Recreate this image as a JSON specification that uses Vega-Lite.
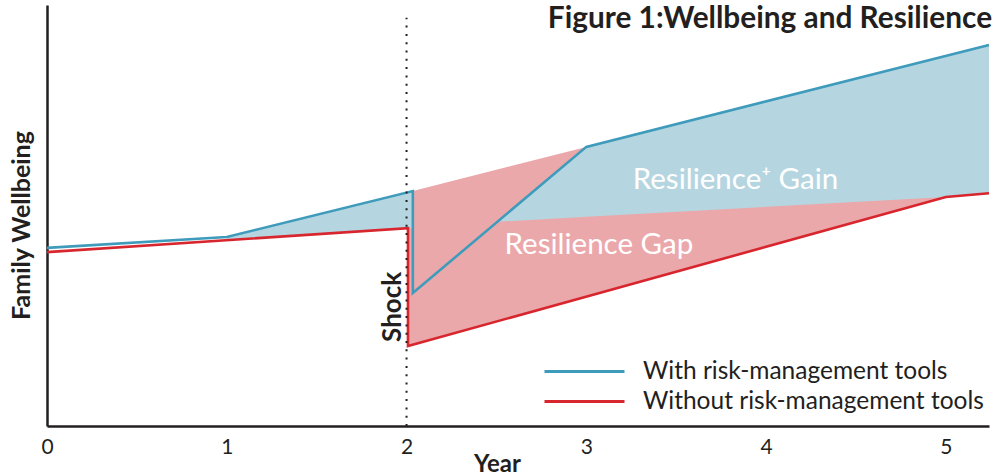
{
  "$schema": "https://vega.github.io/schema/vega-lite/v6.json",
  "width": 942,
  "height": 421,
  "autosize": {"type": "none"},
  "padding": {"left": 47, "top": 5, "right": 17, "bottom": 50},
  "background": "white",
  "config": {
    "view": {"stroke": null},
    "font": "Lato",
    "axis": {"grid": false, "domainColor": "#231f20", "domainWidth": 2.5, "labelColor": "#231f20", "titleColor": "#231f20", "labelFont": "Lato", "titleFont": "Lato"},
    "legend": {"labelFont": "Lato"}
  },
  "datasets": {
    "lines": [
      {"series": "With risk-management tools", "x": 0, "y": 42.3, "ord": 1},
      {"series": "With risk-management tools", "x": 1, "y": 44.9, "ord": 2},
      {"series": "With risk-management tools", "x": 2.035, "y": 55.8, "ord": 3},
      {"series": "With risk-management tools", "x": 2.035, "y": 31.6, "ord": 4},
      {"series": "With risk-management tools", "x": 3, "y": 66.3, "ord": 5},
      {"series": "With risk-management tools", "x": 5.24, "y": 90.5, "ord": 6},
      {"series": "Without risk-management tools", "x": 0, "y": 41.3, "ord": 1},
      {"series": "Without risk-management tools", "x": 2.008, "y": 47.0, "ord": 2},
      {"series": "Without risk-management tools", "x": 2.008, "y": 19.0, "ord": 3},
      {"series": "Without risk-management tools", "x": 5.0, "y": 54.4, "ord": 4},
      {"series": "Without risk-management tools", "x": 5.24, "y": 55.3, "ord": 5}
    ],
    "gap": [
      {"x": 2.008, "top": 55.5, "bottom": 19.0},
      {"x": 3, "top": 66.3, "bottom": 30.7},
      {"x": 5, "top": 87.9, "bottom": 54.4}
    ],
    "pre": [
      {"x": 1, "top": 44.9, "bottom": 44.1},
      {"x": 2.008, "top": 55.5, "bottom": 47.0},
      {"x": 2.035, "top": 55.8, "bottom": 47.0}
    ],
    "gain": [
      {"x": 2.506, "top": 48.5, "bottom": 48.5},
      {"x": 3, "top": 66.3, "bottom": 49.7},
      {"x": 5, "top": 87.9, "bottom": 54.4},
      {"x": 5.24, "top": 90.5, "bottom": 55.3}
    ],
    "shock": [{"x": 2, "y0": 0, "y1": 97}],
    "labels": [
      {"label": "Resilience⁺ Gain", "x": 3.83, "y": 58.4},
      {"label": "Resilience Gap", "x": 3.07, "y": 43.0}
    ],
    "shocklabel": [{"label": "Shock", "x": 1.925, "y": 28.3}],
    "heading": [{"label": "Figure 1:Wellbeing and Resilience", "x": 5.257, "y": 94.5}]
  },
  "layer": [
    {
      "data": {"name": "gap"},
      "mark": {"type": "area", "color": "#eba8ab", "opacity": 1},
      "encoding": {
        "x": {"field": "x", "type": "quantitative", "scale": {"domain": [0, 5.24], "nice": false, "zero": false}, "axis": {"values": [0, 1, 2, 3, 4, 5], "format": "d", "ticks": false, "labelFlush": false, "labelFontSize": 21, "labelPadding": 10, "title": "Year", "titleFontSize": 24, "titleFontWeight": "bold", "titleX": 450, "titleY": 45, "titleBaseline": "alphabetic"}},
        "y": {"field": "top", "type": "quantitative", "scale": {"domain": [0, 100], "nice": false}, "axis": {"ticks": false, "labels": false, "title": "Family Wellbeing", "titleFontSize": 25, "titleFontWeight": "bold", "titleX": -13, "titleY": 220, "titleAlign": "center"}},
        "y2": {"field": "bottom"}
      }
    },
    {
      "data": {"name": "pre"},
      "mark": {"type": "area", "color": "#b5d6e0", "opacity": 1},
      "encoding": {
        "x": {"field": "x", "type": "quantitative"},
        "y": {"field": "top", "type": "quantitative"},
        "y2": {"field": "bottom"}
      }
    },
    {
      "data": {"name": "gain"},
      "mark": {"type": "area", "color": "#b5d6e0", "opacity": 1},
      "encoding": {
        "x": {"field": "x", "type": "quantitative"},
        "y": {"field": "top", "type": "quantitative"},
        "y2": {"field": "bottom"}
      }
    },
    {
      "data": {"name": "lines"},
      "mark": {"type": "line", "strokeWidth": 2.6, "strokeJoin": "miter"},
      "encoding": {
        "x": {"field": "x", "type": "quantitative"},
        "y": {"field": "y", "type": "quantitative"},
        "order": {"field": "ord", "type": "quantitative"},
        "color": {
          "field": "series", "type": "nominal",
          "scale": {"domain": ["With risk-management tools", "Without risk-management tools"], "range": ["#3f9bbb", "#d8262e"]},
          "legend": {"title": null, "orient": "none", "legendX": 521, "legendY": 350, "symbolType": "M-2.667,0H2.667", "symbolSize": 900, "symbolStrokeWidth": 3, "labelFontSize": 24.5, "labelColor": "#231f20", "labelOffset": 42, "rowPadding": 2, "labelLimit": 450}
        }
      }
    },
    {
      "data": {"name": "shock"},
      "mark": {"type": "rule", "color": "#231f20", "strokeWidth": 2, "strokeDash": [2, 6.3]},
      "encoding": {
        "x": {"field": "x", "type": "quantitative"},
        "y": {"field": "y0", "type": "quantitative"},
        "y2": {"field": "y1"}
      }
    },
    {
      "data": {"name": "labels"},
      "mark": {"type": "text", "color": "white", "fontSize": 29.5, "font": "Lato", "align": "center", "baseline": "middle"},
      "encoding": {
        "x": {"field": "x", "type": "quantitative"},
        "y": {"field": "y", "type": "quantitative"},
        "text": {"field": "label"}
      }
    },
    {
      "data": {"name": "shocklabel"},
      "mark": {"type": "text", "color": "#231f20", "fontSize": 26, "font": "Lato", "fontWeight": "bold", "angle": 270, "align": "center", "baseline": "middle"},
      "encoding": {
        "x": {"field": "x", "type": "quantitative"},
        "y": {"field": "y", "type": "quantitative"},
        "text": {"field": "label"}
      }
    },
    {
      "data": {"name": "heading"},
      "mark": {"type": "text", "color": "#231f20", "fontSize": 29.8, "font": "Lato", "fontWeight": "bold", "align": "right", "baseline": "alphabetic"},
      "encoding": {
        "x": {"field": "x", "type": "quantitative"},
        "y": {"field": "y", "type": "quantitative"},
        "text": {"field": "label"}
      }
    }
  ]
}
